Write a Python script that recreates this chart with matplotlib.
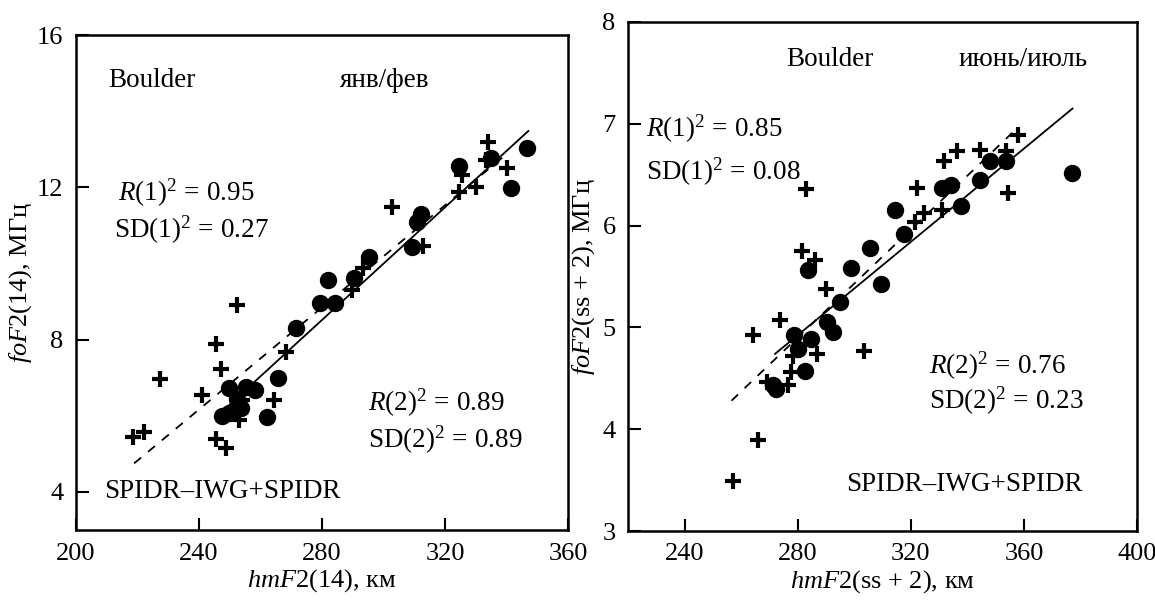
import matplotlib
matplotlib.use("Agg")
import matplotlib.pyplot as plt

plt.rcParams['font.family'] = ['Liberation Serif', 'DejaVu Serif']
plt.rcParams['mathtext.fontset'] = 'custom'
plt.rcParams['mathtext.rm'] = 'Liberation Serif'
plt.rcParams['mathtext.it'] = 'Liberation Serif:italic'
plt.rcParams['mathtext.bf'] = 'Liberation Serif:bold'

# --- winter (янв/фев), hmF2(14) vs foF2(14)
win_dot_x = [346.8, 335.1, 324.6, 341.4, 312.3, 311.0, 309.4, 295.3, 290.4, 282.1,
             279.3, 284.2, 271.4, 265.8, 249.8, 255.2, 258.2, 247.6, 249.8, 262.2,
             252.5, 253.5]
win_dot_y = [13.04, 12.76, 12.56, 11.97, 11.29, 11.08, 10.42, 10.18, 9.63, 9.57,
             8.95, 8.95, 8.30, 7.00, 6.72, 6.76, 6.68, 5.99, 6.07, 5.98,
             6.45, 6.20]
win_plus_x = [334.0, 333.2, 340.3, 325.4, 324.6, 330.0, 302.7, 312.8, 293.3, 289.9,
              252.3, 245.6, 268.2, 247.3, 227.3, 241.1, 264.4, 254.1, 254.1, 253.0,
              245.4, 248.7, 218.6, 222.1]
win_plus_y = [13.20, 12.72, 12.50, 12.32, 11.88, 12.02, 11.47, 10.46, 9.87, 9.29,
              8.91, 7.89, 7.68, 7.22, 6.96, 6.55, 6.42, 6.42, 6.20, 5.89,
              5.38, 5.15, 5.45, 5.57]
win_fit1_x = [248.7, 347.1]
win_fit1_y = [6.20, 13.48]
win_fit2_x = [218.9, 340.3]
win_fit2_y = [4.75, 12.89]

# --- summer (июнь/июль), hmF2(ss+2) vs foF2(ss+2)
sum_dot_x = [377.0, 353.6, 347.9, 344.5, 334.2, 331.2, 337.8, 314.5, 317.5, 305.7,
             283.6, 298.7, 309.3, 294.8, 290.3, 292.4, 278.7, 284.7, 280.0, 282.7,
             272.4, 271.2]
sum_dot_y = [6.52, 6.63, 6.63, 6.45, 6.40, 6.37, 6.19, 6.15, 5.92, 5.78,
             5.56, 5.58, 5.43, 5.25, 5.05, 4.95, 4.93, 4.89, 4.79, 4.57,
             4.39, 4.43]
sum_plus_x = [357.8, 353.6, 344.5, 336.2, 331.7, 354.5, 331.2, 322.1, 324.5, 321.5,
              282.9, 281.5, 286.3, 289.9, 273.6, 264.2, 286.9, 278.4, 303.3, 277.8,
              269.1, 276.6, 266.1, 257.0]
sum_plus_y = [6.89, 6.73, 6.74, 6.73, 6.63, 6.32, 6.15, 6.37, 6.12, 6.04,
              6.36, 5.75, 5.66, 5.38, 5.07, 4.93, 4.74, 4.72, 4.77, 4.56,
              4.46, 4.43, 3.89, 3.49]
sum_fit1_x = [272.0, 377.2]
sum_fit1_y = [4.74, 7.15]
sum_fit2_x = [256.6, 356.6]
sum_fit2_y = [4.28, 6.93]

FS = 19.5   # annotation text
TFS = 19    # tick labels / axis labels


def draw(ax, dx, dy, px, py, f1x, f1y, f2x, f2y):
    ax.plot(dx, dy, 'o', color='black', ms=11.5, zorder=3)
    ax.plot(px, py, '+', color='black', ms=12, mew=3, zorder=3)
    ax.plot(f1x, f1y, '-', color='black', lw=1.3)
    ax.plot(f2x, f2y, '--', color='black', lw=1.3, dashes=(5, 5))
    for s in ax.spines.values():
        s.set_linewidth(1.8)
    ax.tick_params(direction='in', length=9, width=1.5, labelsize=TFS, pad=9,
                   top=False, right=False)


fig = plt.figure(figsize=(11.55, 6.01), dpi=100)
ax1 = fig.add_axes([76 / 1155, 1 - 530 / 601, 492 / 1155, 495 / 601])
ax2 = fig.add_axes([628 / 1155, 1 - 531 / 601, 509 / 1155, 509 / 601])

draw(ax1, win_dot_x, win_dot_y, win_plus_x, win_plus_y,
     win_fit1_x, win_fit1_y, win_fit2_x, win_fit2_y)
ax1.set_xlim(200, 360)
ax1.set_ylim(3, 16)
ax1.set_xticks([200, 240, 280, 320, 360])
ax1.set_yticks([4, 8, 12, 16])
ax1.set_xlabel(r'$hmF2$(14), км', fontsize=TFS, labelpad=2)
ax1.set_ylabel(r'$foF2$(14), МГц', fontsize=TFS, labelpad=2)
ax1.text(210.5, 14.8, 'Boulder', fontsize=FS, va='center')
ax1.text(286, 14.8, 'янв/фев', fontsize=FS, va='center')
ax1.text(213.5, 11.85, r'$R(1)^2\,=\,0.95$', fontsize=FS, va='center')
ax1.text(212.5, 10.88, r'$\mathrm{SD}(1)^2\,=\,0.27$', fontsize=FS, va='center')
ax1.text(295, 6.34, r'$R(2)^2\,=\,0.89$', fontsize=FS, va='center')
ax1.text(295, 5.36, r'$\mathrm{SD}(2)^2\,=\,0.89$', fontsize=FS, va='center')
ax1.text(209, 4.0, 'SPIDR\u2013IWG+SPIDR', fontsize=FS, va='center')

draw(ax2, sum_dot_x, sum_dot_y, sum_plus_x, sum_plus_y,
     sum_fit1_x, sum_fit1_y, sum_fit2_x, sum_fit2_y)
ax2.set_xlim(220, 400)
ax2.set_ylim(3, 8)
ax2.set_xticks([240, 280, 320, 360, 400])
ax2.set_yticks([3, 4, 5, 6, 7, 8])
ax2.set_xlabel(r'$hmF2$(ss + 2), км', fontsize=TFS, labelpad=2)
ax2.set_ylabel(r'$foF2$(ss + 2), МГц', fontsize=TFS, labelpad=4)
ax2.text(276, 7.63, 'Boulder', fontsize=FS, va='center')
ax2.text(337, 7.63, 'июнь/июль', fontsize=FS, va='center')
ax2.text(226.3, 6.95, r'$R(1)^2\,=\,0.85$', fontsize=FS, va='center')
ax2.text(226.3, 6.53, r'$\mathrm{SD}(1)^2\,=\,0.08$', fontsize=FS, va='center')
ax2.text(326.3, 4.62, r'$R(2)^2\,=\,0.76$', fontsize=FS, va='center')
ax2.text(326.3, 4.28, r'$\mathrm{SD}(2)^2\,=\,0.23$', fontsize=FS, va='center')
ax2.text(297, 3.46, 'SPIDR\u2013IWG+SPIDR', fontsize=FS, va='center')

fig.savefig('out.png', dpi=100)
